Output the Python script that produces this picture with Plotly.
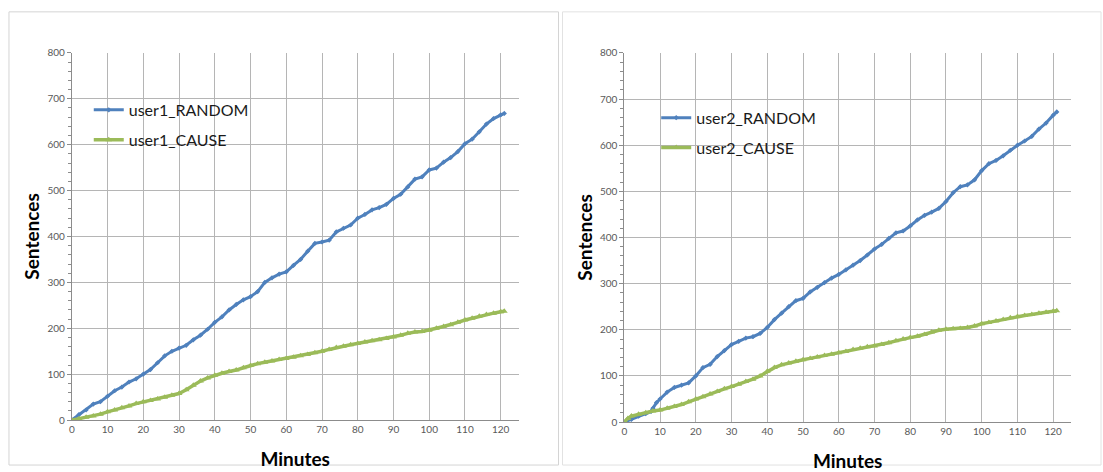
import plotly.graph_objects as go

# ---- data: sentences produced over time (minutes) ----
user1_random_min = [0, 2, 4, 6, 8, 10, 12, 14, 16, 18, 20, 22, 24, 26, 28, 30, 32, 34, 36, 38, 40,
                    42, 44, 46, 48, 50, 52, 54, 56, 58, 60, 62, 64, 66, 68, 70, 72, 74, 76, 78, 80,
                    82, 84, 86, 88, 90, 92, 94, 96, 98, 100, 102, 104, 106, 108, 110, 112, 114, 116,
                    118, 120, 121]
user1_random = [0, 12, 22, 35, 40, 52, 64, 72, 83, 90, 100, 110, 125, 140, 150, 157, 163, 175, 185,
                198, 213, 225, 240, 252, 262, 269, 280, 300, 310, 318, 323, 337, 350, 368, 385, 388,
                392, 410, 418, 425, 440, 448, 458, 463, 470, 483, 492, 508, 525, 530, 545, 549, 562,
                572, 585, 602, 612, 628, 645, 657, 665, 668]

user1_cause_min = user1_random_min
user1_cause = [0, 3, 6, 9, 13, 18, 22, 27, 31, 36, 40, 43, 46, 50, 54, 58, 66, 76, 85, 92, 98, 102,
               106, 109, 114, 119, 123, 126, 129, 132, 134, 137, 140, 143, 147, 150, 154, 158, 161,
               164, 167, 170, 173, 175, 178, 181, 185, 189, 192, 193, 196, 200, 204, 208, 213, 218,
               222, 226, 230, 233, 236, 237]

user2_random_min = [0, 2, 4, 6, 7.5, 8, 9, 10, 12, 14, 16, 18, 20, 22, 24, 26, 28, 30, 32, 34, 36,
                    38, 40, 42, 44, 46, 48, 50, 52, 54, 56, 58, 60, 62, 64, 66, 68, 70, 72, 74, 76,
                    78, 80, 82, 84, 86, 88, 90, 92, 94, 96, 98, 100, 102, 104, 106, 108, 110, 112,
                    114, 116, 118, 120, 121]
user2_random = [0, 6, 13, 18, 23, 30, 42, 50, 65, 75, 80, 85, 100, 118, 125, 142, 155, 168, 175,
                182, 185, 192, 205, 222, 236, 250, 263, 268, 282, 292, 302, 312, 320, 330, 340, 350,
                362, 375, 385, 398, 410, 414, 425, 438, 448, 455, 463, 478, 497, 510, 514, 525, 545,
                560, 567, 577, 589, 600, 609, 619, 635, 648, 665, 672]

user2_cause_min = [0, 1, 2, 4, 6, 8, 10, 12, 14, 16, 18, 20, 22, 24, 26, 28, 30, 32, 34, 36, 38, 40,
                   42, 44, 46, 48, 50, 52, 54, 56, 58, 60, 62, 64, 66, 68, 70, 72, 74, 76, 78, 80,
                   82, 84, 86, 88, 90, 92, 94, 96, 98, 100, 102, 104, 106, 108, 110, 112, 114, 116,
                   118, 120, 121]
user2_cause = [0, 8, 13, 17, 20, 24, 26, 30, 34, 38, 44, 50, 55, 61, 66, 72, 77, 82, 88, 93, 100,
               110, 118, 124, 128, 132, 135, 138, 141, 144, 147, 150, 153, 157, 160, 163, 165, 168,
               172, 176, 180, 183, 186, 190, 195, 199, 201, 202, 203, 205, 208, 213, 216, 219, 222,
               226, 229, 231, 233, 236, 238, 240, 241]

x_ticks = list(range(0, 121, 10))

BLUE = "#4F81BD"
GREEN = "#9BBB59"
W, H = 1103, 472

fig = go.Figure()


def add_series(x, y, name, color, symbol, width, msize, xa, ya, legend, group):
    fig.add_trace(go.Scatter(
        x=x, y=y, name=name, mode="lines+markers",
        line=dict(color=color, width=width),
        marker=dict(color=color, symbol=symbol, size=msize),
        xaxis=xa, yaxis=ya, legend=legend, legendgroup=group,
    ))


add_series(user1_random_min, user1_random, "user1_RANDOM", BLUE, "diamond", 3, 4, "x", "y", "legend", "a")
add_series(user1_cause_min, user1_cause, "user1_CAUSE", GREEN, "triangle-up", 3.5, 6, "x", "y", "legend", "b")
add_series(user2_random_min, user2_random, "user2_RANDOM", BLUE, "diamond", 3, 4, "x2", "y2", "legend2", "c")
add_series(user2_cause_min, user2_cause, "user2_CAUSE", GREEN, "triangle-up", 3.5, 6, "x2", "y2", "legend2", "d")

tick_font = dict(family="Lato, Liberation Sans, sans-serif", size=10, color="#595959")
title_font = dict(family="Lato, Liberation Sans, sans-serif", size=19, color="#000000", weight="bold")
legend_font = dict(family="Lato, Liberation Sans, sans-serif", size=16, color="#1a1a1a")


def xaxis_cfg(x0, x1):
    return dict(
        domain=[x0 / W, x1 / W], range=[0, 125], tickvals=x_ticks,
        showgrid=True, gridcolor="#b5b5b5", gridwidth=1,
        showline=True, linecolor="#8c8c8c", linewidth=1,
        zeroline=False, ticks="", tickfont=tick_font,
        title=dict(text="Minutes", font=title_font, standoff=18),
    )


def yaxis_cfg(y_bottom, y_top, anchor):
    return dict(
        domain=[(H - y_bottom) / H, (H - y_top) / H], range=[0, 800], dtick=100,
        showgrid=True, gridcolor="#b5b5b5", gridwidth=1,
        showline=True, linecolor="#8c8c8c", linewidth=1,
        zeroline=False, ticks="outside", ticklen=4, tickcolor="#8c8c8c",
        minor=dict(ticks="outside", dtick=20, ticklen=3, tickcolor="#8c8c8c", showgrid=False),
        tickfont=tick_font, anchor=anchor,
        title=dict(text="Sentences", font=title_font, standoff=2),
    )


fig.update_layout(
    width=W, height=H,
    margin=dict(l=0, r=0, t=0, b=0),
    paper_bgcolor="white", plot_bgcolor="white",
    xaxis=dict(**xaxis_cfg(69, 517), anchor="y"),
    yaxis=yaxis_cfg(424, 48, "x"),
    xaxis2=dict(**xaxis_cfg(623, 1071), anchor="y2"),
    yaxis2=yaxis_cfg(426, 48, "x2"),
    legend=dict(x=86 / W, y=(H - 89) / H, xanchor="left", yanchor="top",
                bgcolor="rgba(0,0,0,0)", font=legend_font, tracegroupgap=6),
    legend2=dict(x=655 / W, y=(H - 97) / H, xanchor="left", yanchor="top",
                 bgcolor="rgba(0,0,0,0)", font=legend_font, tracegroupgap=6),
    shapes=[
        dict(type="rect", xref="paper", yref="paper",
             x0=6 / W, x1=557 / W, y0=(H - 470) / H, y1=(H - 6) / H,
             line=dict(color="#d4d4d4", width=1)),
        dict(type="rect", xref="paper", yref="paper",
             x0=561 / W, x1=1101 / W, y0=(H - 470) / H, y1=(H - 6) / H,
             line=dict(color="#e2e2e2", width=1)),
    ],
)

fig.write_html("out.html")
